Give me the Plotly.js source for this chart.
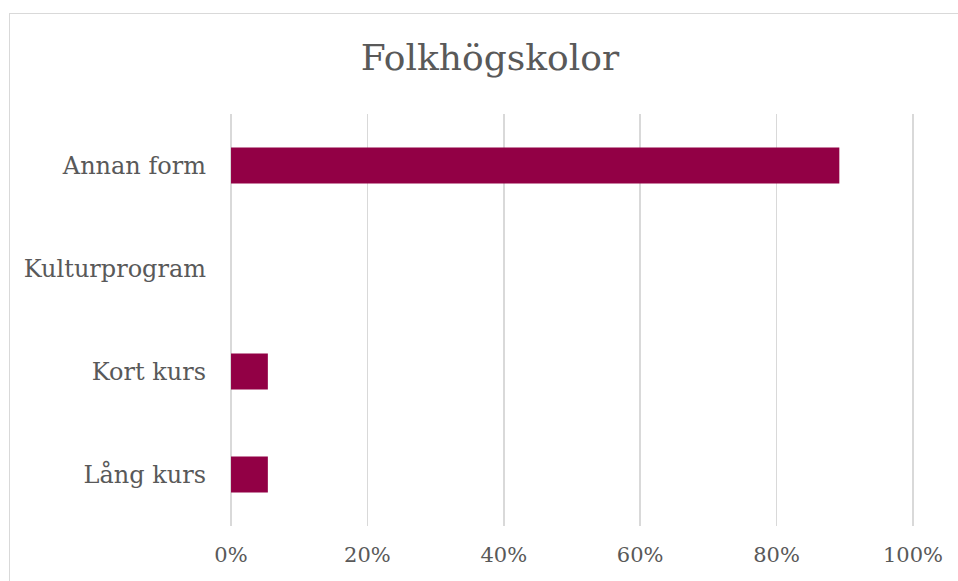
<!DOCTYPE html>
<html>
<head>
<meta charset="utf-8">
<script src="https://cdn.plot.ly/plotly-3.0.1.min.js"></script>
<style>
html,body{margin:0;padding:0;background:#fff;}
#wrap{position:relative;width:958px;height:581px;overflow:hidden;}
#frame{position:absolute;left:9px;top:13px;width:962px;height:600px;border:1px solid #d9d9d9;box-sizing:border-box;}
#chart{position:absolute;left:0;top:0;width:958px;height:581px;}
</style>
</head>
<body>
<div id="wrap"><div id="frame"></div><div id="chart"></div></div>
<script>
const categories = ["Lång kurs", "Kort kurs", "Kulturprogram", "Annan form"];
const shares = [0.054, 0.054, 0, 0.892];
const tickValues = [0, 0.2, 0.4, 0.6, 0.8, 1.0];
const tickLabels = ["0%", "20%", "40%", "60%", "80%", "100%"];
const chartTitle = "Folkhögskolor";

const font = "DejaVu Serif, Liberation Serif, serif";
const trace = {
  type: "bar",
  orientation: "h",
  y: categories,
  x: shares,
  marker: {color: "#920045"},
  hoverinfo: "none"
};
const layout = {
  width: 958, height: 581,
  margin: {l: 230, r: 44, t: 114, b: 55},
  paper_bgcolor: "rgba(0,0,0,0)",
  plot_bgcolor: "rgba(0,0,0,0)",
  bargap: 0.65,
  showlegend: false,
  title: {
    text: chartTitle,
    font: {family: font, size: 36, color: "#595959"},
    x: 490/958, xref: "container", xanchor: "center",
    y: 1 - 57/581, yref: "container", yanchor: "middle"
  },
  xaxis: {
    range: [-0.0015, 1.0015],
    tickvals: tickValues,
    ticktext: tickLabels,
    showgrid: true,
    gridcolor: "#d9d9d9",
    gridwidth: 1.5,
    zeroline: false,
    showline: false,
    ticks: "",
    ticklabelstandoff: 14,
    tickfont: {family: font, size: 21, color: "#595959"},
    fixedrange: true
  },
  yaxis: {
    type: "category",
    categoryorder: "array",
    categoryarray: categories,
    range: [-0.5, 3.5],
    showgrid: false,
    zeroline: false,
    showline: false,
    ticks: "",
    ticklabelstandoff: 23,
    tickfont: {family: font, size: 24, color: "#595959"},
    fixedrange: true
  }
};
Plotly.newPlot("chart", [trace], layout, {displayModeBar: false, staticPlot: true});
</script>
</body>
</html>
